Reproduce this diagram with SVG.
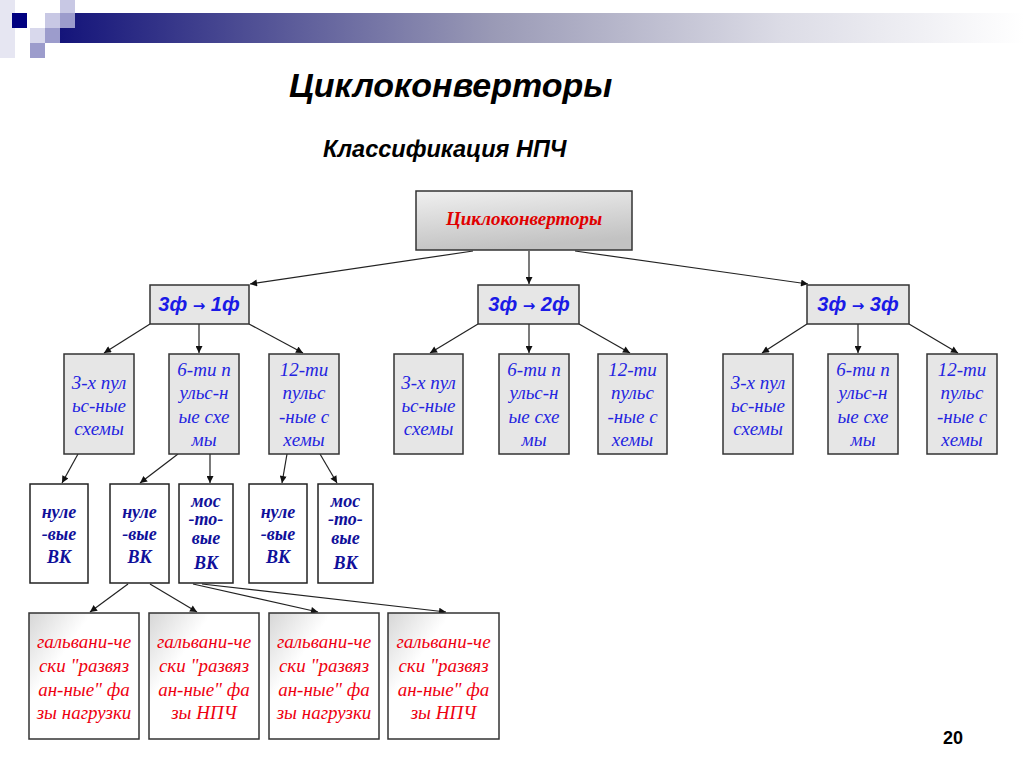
<svg xmlns="http://www.w3.org/2000/svg" width="1024" height="767" viewBox="0 0 1024 767">
<style>
.ttl{font-family:"Liberation Sans",Arial,sans-serif;font-weight:bold;font-style:italic;fill:#000}
.n2{fill:#e6e6e6;stroke:#333;stroke-width:1.5}
.n3{fill:#e6e6e6;stroke:#333;stroke-width:1.5}
.n4{fill:#fff;stroke:#222;stroke-width:1.5}
.n5{fill:url(#g5);stroke:#333;stroke-width:1.5}
.t2{font-family:"Liberation Sans",Arial,sans-serif;font-weight:bold;font-style:italic;font-size:20px;fill:#1a1ae6;text-anchor:middle}
.ar{font-family:"DejaVu Sans",sans-serif;font-style:normal;font-size:15px}
.t3{font-family:"Liberation Serif","Times New Roman",serif;font-style:italic;font-size:19px;fill:#2424e0;text-anchor:middle}
.t4{font-family:"Liberation Serif","Times New Roman",serif;font-weight:bold;font-style:italic;font-size:18px;fill:#10109a;text-anchor:middle}
.t5{font-family:"Liberation Serif","Times New Roman",serif;font-style:italic;font-size:19px;fill:#ee0010;text-anchor:middle}
.c{stroke:#222;stroke-width:1.2;fill:none;marker-end:url(#ah)}
</style>
<defs>
<linearGradient id="bar" x1="0" y1="0" x2="1" y2="0">
<stop offset="0" stop-color="#14147a"/>
<stop offset="0.45" stop-color="#9a9ab6"/>
<stop offset="0.75" stop-color="#dcdce6"/>
<stop offset="1" stop-color="#ffffff"/>
</linearGradient>
<linearGradient id="g1" x1="0" y1="0" x2="0.3" y2="1">
<stop offset="0" stop-color="#f0f0f0"/>
<stop offset="1" stop-color="#c2c2c2"/>
</linearGradient>
<linearGradient id="g5" x1="0" y1="0" x2="0.5" y2="0.4">
<stop offset="0" stop-color="#d6d6d6"/>
<stop offset="0.7" stop-color="#ffffff"/>
<stop offset="1" stop-color="#ffffff"/>
</linearGradient>
<marker id="ah" viewBox="0 0 10 10" refX="10" refY="5" markerWidth="8" markerHeight="7" orient="auto" markerUnits="userSpaceOnUse">
<path d="M0,0 L10,5 L0,10 z" fill="#111"/>
</marker>
</defs>
<rect width="1024" height="767" fill="#fff"/>
<g id="header">
<rect x="0" y="0" width="15" height="58" fill="#e6e6f2"/>
<rect x="60" y="13" width="964" height="30" fill="url(#bar)"/>
<rect x="12" y="13" width="15" height="15" fill="#000080"/>
<rect x="45" y="13" width="15" height="15" fill="#c8c8e4"/>
<rect x="60" y="0" width="15" height="13" fill="#c8c8e4"/>
<rect x="60" y="13" width="15" height="15" fill="#9c9ccc"/>
<rect x="30" y="28" width="15" height="15" fill="#d8d8ec"/>
<rect x="45" y="28" width="15" height="15" fill="#9c9ccc"/>
<rect x="30" y="43" width="15" height="15" fill="#9c9ccc"/>
</g>
<text class="ttl" x="289" y="97" font-size="34">Циклоконверторы</text>
<text class="ttl" x="323" y="157" font-size="23.5">Классификация НПЧ</text>

<g id="connectors">
<line class="c" x1="473" y1="251" x2="250" y2="284"/>
<line class="c" x1="529" y1="251" x2="529" y2="284"/>
<line class="c" x1="575" y1="251" x2="808" y2="284"/>

<line class="c" x1="150" y1="324" x2="104" y2="353"/>
<line class="c" x1="199" y1="324" x2="199" y2="353"/>
<line class="c" x1="249" y1="324" x2="303" y2="353"/>
<line class="c" x1="478" y1="324" x2="430" y2="353"/>
<line class="c" x1="529" y1="324" x2="529" y2="353"/>
<line class="c" x1="579" y1="324" x2="630" y2="353"/>
<line class="c" x1="807" y1="324" x2="762" y2="353"/>
<line class="c" x1="858" y1="324" x2="858" y2="353"/>
<line class="c" x1="909" y1="324" x2="958" y2="353"/>

<line class="c" x1="78" y1="454" x2="62" y2="483"/>
<line class="c" x1="178" y1="454" x2="140" y2="483"/>
<line class="c" x1="210" y1="454" x2="210" y2="483"/>
<line class="c" x1="287" y1="454" x2="282" y2="483"/>
<line class="c" x1="320" y1="454" x2="337" y2="483"/>

<line class="c" x1="128" y1="584" x2="90" y2="612"/>
<line class="c" x1="150" y1="584" x2="197" y2="612"/>
<line class="c" x1="193" y1="584" x2="318" y2="612"/>
<line class="c" x1="202" y1="584" x2="446" y2="612"/>
</g>

<g id="n-root">
<rect x="416" y="191" width="216" height="59" fill="url(#g1)" stroke="#333" stroke-width="1.5"/>
<text x="524" y="225" font-family="'Liberation Serif','Times New Roman',serif" font-weight="bold" font-style="italic" font-size="19" fill="#e00000" text-anchor="middle">Циклоконверторы</text>
</g>

<g id="n-3-1">
<rect class="n2" x="150" y="285" width="99" height="39"/>
<text class="t2" x="199" y="311">3ф <tspan class="ar">→</tspan> 1ф</text>
</g>
<g id="n-3-2">
<rect class="n2" x="478" y="285" width="101" height="39"/>
<text class="t2" x="529" y="311">3ф <tspan class="ar">→</tspan> 2ф</text>
</g>
<g id="n-3-3">
<rect class="n2" x="807" y="285" width="102" height="39"/>
<text class="t2" x="858" y="311">3ф <tspan class="ar">→</tspan> 3ф</text>
</g>

<g id="g1-3x">
<rect class="n3" x="64" y="354" width="70" height="100"/>
<text class="t3" x="99" y="389">3-х пул</text>
<text class="t3" x="99" y="412">ьс-ные</text>
<text class="t3" x="99" y="435">схемы</text>
</g>
<g id="g1-6">
<rect class="n3" x="169" y="354" width="70" height="100"/>
<text class="t3" x="204" y="376">6-ти п</text>
<text class="t3" x="204" y="399">ульс-н</text>
<text class="t3" x="204" y="423">ые схе</text>
<text class="t3" x="204" y="446">мы</text>
</g>
<g id="g1-12">
<rect class="n3" x="269" y="354" width="70" height="100"/>
<text class="t3" x="304" y="376">12-ти</text>
<text class="t3" x="304" y="399">пульс</text>
<text class="t3" x="304" y="423">-ные с</text>
<text class="t3" x="304" y="446">хемы</text>
</g>

<g id="g2-3x">
<rect class="n3" x="394" y="354" width="69" height="100"/>
<text class="t3" x="428.5" y="389">3-х пул</text>
<text class="t3" x="428.5" y="412">ьс-ные</text>
<text class="t3" x="428.5" y="435">схемы</text>
</g>
<g id="g2-6">
<rect class="n3" x="499" y="354" width="70" height="100"/>
<text class="t3" x="534" y="376">6-ти п</text>
<text class="t3" x="534" y="399">ульс-н</text>
<text class="t3" x="534" y="423">ые схе</text>
<text class="t3" x="534" y="446">мы</text>
</g>
<g id="g2-12">
<rect class="n3" x="598" y="354" width="69" height="100"/>
<text class="t3" x="632.5" y="376">12-ти</text>
<text class="t3" x="632.5" y="399">пульс</text>
<text class="t3" x="632.5" y="423">-ные с</text>
<text class="t3" x="632.5" y="446">хемы</text>
</g>

<g id="g3-3x">
<rect class="n3" x="723" y="354" width="70" height="100"/>
<text class="t3" x="758" y="389">3-х пул</text>
<text class="t3" x="758" y="412">ьс-ные</text>
<text class="t3" x="758" y="435">схемы</text>
</g>
<g id="g3-6">
<rect class="n3" x="828" y="354" width="70" height="100"/>
<text class="t3" x="863" y="376">6-ти п</text>
<text class="t3" x="863" y="399">ульс-н</text>
<text class="t3" x="863" y="423">ые схе</text>
<text class="t3" x="863" y="446">мы</text>
</g>
<g id="g3-12">
<rect class="n3" x="927" y="354" width="70" height="100"/>
<text class="t3" x="962" y="376">12-ти</text>
<text class="t3" x="962" y="399">пульс</text>
<text class="t3" x="962" y="423">-ные с</text>
<text class="t3" x="962" y="446">хемы</text>
</g>

<g id="vk1">
<rect class="n4" x="30" y="484" width="58" height="99"/>
<text class="t4" x="59" y="518">нуле</text>
<text class="t4" x="59" y="540">-вые</text>
<text class="t4" x="59" y="563" font-size="20">ВК</text>
</g>
<g id="vk2">
<rect class="n4" x="110" y="484" width="59" height="99"/>
<text class="t4" x="139.5" y="518">нуле</text>
<text class="t4" x="139.5" y="540">-вые</text>
<text class="t4" x="139.5" y="563" font-size="20">ВК</text>
</g>
<g id="vk3">
<rect class="n4" x="179" y="484" width="54" height="99"/>
<text class="t4" x="206" y="507">мос</text>
<text class="t4" x="206" y="525">-то-</text>
<text class="t4" x="206" y="544">вые</text>
<text class="t4" x="206" y="569" font-size="20">ВК</text>
</g>
<g id="vk4">
<rect class="n4" x="249" y="484" width="58" height="99"/>
<text class="t4" x="278" y="518">нуле</text>
<text class="t4" x="278" y="540">-вые</text>
<text class="t4" x="278" y="563" font-size="20">ВК</text>
</g>
<g id="vk5">
<rect class="n4" x="318" y="484" width="55" height="99"/>
<text class="t4" x="345.5" y="507">мос</text>
<text class="t4" x="345.5" y="525">-то-</text>
<text class="t4" x="345.5" y="544">вые</text>
<text class="t4" x="345.5" y="569" font-size="20">ВК</text>
</g>

<g id="gal1">
<rect class="n5" x="29" y="613" width="110" height="126"/>
<text class="t5" x="84" y="648">гальвани-че</text>
<text class="t5" x="84" y="672">ски "развяз</text>
<text class="t5" x="84" y="696">ан-ные" фа</text>
<text class="t5" x="84" y="719">зы нагрузки</text>
</g>
<g id="gal2">
<rect class="n5" x="149" y="613" width="110" height="126"/>
<text class="t5" x="204" y="648">гальвани-че</text>
<text class="t5" x="204" y="672">ски "развяз</text>
<text class="t5" x="204" y="696">ан-ные" фа</text>
<text class="t5" x="204" y="719">зы НПЧ</text>
</g>
<g id="gal3">
<rect class="n5" x="269" y="613" width="110" height="126"/>
<text class="t5" x="324" y="648">гальвани-че</text>
<text class="t5" x="324" y="672">ски "развяз</text>
<text class="t5" x="324" y="696">ан-ные" фа</text>
<text class="t5" x="324" y="719">зы нагрузки</text>
</g>
<g id="gal4">
<rect class="n5" x="388" y="613" width="111" height="126"/>
<text class="t5" x="443.5" y="648">гальвани-че</text>
<text class="t5" x="443.5" y="672">ски "развяз</text>
<text class="t5" x="443.5" y="696">ан-ные" фа</text>
<text class="t5" x="443.5" y="719">зы НПЧ</text>
</g>

<text x="953" y="744" font-family="'Liberation Sans',Arial,sans-serif" font-weight="bold" font-size="18" fill="#000" text-anchor="middle">20</text>
</svg>
